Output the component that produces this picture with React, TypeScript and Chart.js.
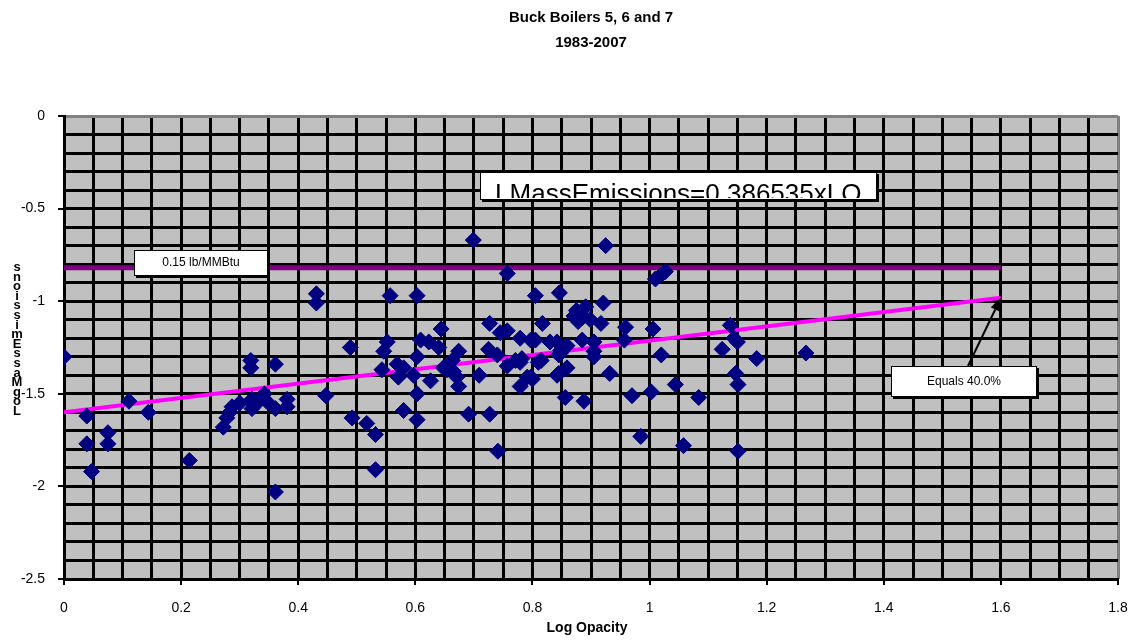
import React, { useEffect, useRef } from "react";
import { Chart, registerables } from "chart.js";

Chart.register(...registerables);

const TITLE_LINES = ["Buck Boilers 5, 6 and 7", "1983-2007"];
const X_TITLE = "Log Opacity";
const Y_TITLE = "LogMassEmissions";

const logOpacity = [
  0.0, 0.039, 0.039, 0.047, 0.075, 0.075, 0.111, 0.144, 0.214, 0.272,
  0.278, 0.283, 0.287, 0.3, 0.319, 0.319, 0.321, 0.321, 0.33, 0.342,
  0.346, 0.361, 0.361, 0.381, 0.381, 0.361, 0.431, 0.431, 0.557, 0.603,
  0.489, 0.447, 0.492, 0.517, 0.532, 0.532, 0.546, 0.552, 0.543, 0.569,
  0.571, 0.58, 0.597, 0.603, 0.609, 0.623, 0.64, 0.603, 0.58, 0.603,
  0.626, 0.644, 0.648, 0.663, 0.674, 0.665, 0.674, 0.691, 0.709, 0.727,
  0.741, 0.727, 0.745, 0.757, 0.725, 0.74, 0.757, 0.779, 0.782, 0.797,
  0.779, 0.797, 0.805, 0.81, 0.699, 0.925, 0.757, 0.846, 1.01, 1.019,
  1.027, 0.817, 0.805, 0.815, 0.8, 0.842, 0.848, 0.859, 0.845, 0.859,
  0.856, 0.888, 0.882, 0.891, 0.899, 0.871, 0.878, 0.921, 0.917, 0.885,
  0.905, 0.905, 0.932, 0.959, 0.957, 1.006, 1.02, 0.97, 1.003, 1.044,
  1.084, 0.985, 1.058, 1.138, 1.144, 1.124, 1.15, 1.183, 1.147, 1.151,
  1.151, 1.267, 0.83, 0.905, 0.848, 0.779, 0.791, 0.845, 0.842, 0.654,
  0.671, 0.771, 0.875, 0.885, 0.325,
];

const logMassEmissions = [
  -1.3, -1.62, -1.77, -1.92, -1.71, -1.77, -1.54, -1.6, -1.86, -1.68,
  -1.63, -1.6, -1.57, -1.55, -1.32, -1.36, -1.53, -1.58, -1.55, -1.5,
  -1.54, -1.34, -1.58, -1.53, -1.57, -2.03, -0.96, -1.01, -0.97, -0.97,
  -1.25, -1.51, -1.63, -1.66, -1.72, -1.91, -1.27, -1.22, -1.37, -1.34,
  -1.41, -1.36, -1.4, -1.3, -1.21, -1.22, -1.25, -1.5, -1.59, -1.64,
  -1.43, -1.15, -1.36, -1.32, -1.27, -1.38, -1.46, -1.61, -1.4, -1.61,
  -1.81, -1.12, -1.17, -1.16, -1.26, -1.29, -1.35, -1.2, -1.31, -1.21,
  -1.46, -1.41, -0.97, -1.33, -0.67, -0.7, -0.85, -0.955, -0.88, -0.86,
  -0.84, -1.12, -1.21, -1.32, -1.42, -1.22, -1.28, -1.24, -1.39, -1.36,
  -1.52, -1.54, -1.07, -1.03, -1.1, -1.08, -1.11, -1.01, -1.12, -1.21,
  -1.22, -1.3, -1.39, -1.14, -1.21, -1.15, -1.29, -1.51, -1.49, -1.45,
  -1.52, -1.73, -1.78, -1.13, -1.2, -1.26, -1.22, -1.31, -1.39, -1.45,
  -1.81, -1.28, -1.22, -1.27, -1.265, -1.33, -1.41, -1.29, -1.4, -1.37,
  -1.41, -1.32, -1.05, -1.09, -1.56,
];

const LIMIT_VALUE = -0.82;
const LIMIT_X_RANGE = [0, 1.6];
const TREND_SLOPE = 0.386535;
const TREND_INTERCEPT = -1.6;
const TREND_X_RANGE = [0, 1.6];

const LIMIT_LABEL = "0.15 lb/MMBtu";
const EQUATION_LABEL = "LMassEmissions=0.386535xLO";
const FIT_LABEL = "Equals 40.0%";

const X_MIN = 0;
const X_MAX = 1.8;
const X_LABEL_STEP = 0.2;
const X_GRID_STEP = 0.05;
const Y_MIN = -2.5;
const Y_MAX = 0;
const Y_LABEL_STEP = 0.5;
const Y_GRID_STEP = 0.1;

const FONT = '"Liberation Sans", Arial, sans-serif';

function fmt(v: number) {
  const r = Math.round(v * 10) / 10;
  return String(r === 0 ? 0 : r);
}

function drawBox(
  ctx: CanvasRenderingContext2D,
  cx: number,
  cy: number,
  w: number,
  h: number,
  text: string,
  font: string,
  clipBaseline?: number
) {
  const x = Math.round(cx - w / 2);
  const y = Math.round(cy - h / 2);
  ctx.fillStyle = "#000";
  ctx.fillRect(x + 2, y + 2, w, h);
  ctx.fillStyle = "#fff";
  ctx.fillRect(x, y, w, h);
  ctx.strokeStyle = "#000";
  ctx.lineWidth = 1;
  ctx.strokeRect(x + 0.5, y + 0.5, w - 1, h - 1);
  ctx.save();
  ctx.fillStyle = "#000";
  ctx.font = font;
  ctx.textAlign = "center";
  if (clipBaseline !== undefined) {
    ctx.beginPath();
    ctx.rect(x + 1, y + 1, w - 2, h - 3);
    ctx.clip();
    ctx.textBaseline = "alphabetic";
    ctx.fillText(text, cx, y + h + clipBaseline);
  } else {
    ctx.textBaseline = "middle";
    ctx.fillText(text, cx, cy);
  }
  ctx.restore();
}

const overlayPlugin = {
  id: "overlay",
  afterDraw(chart: any) {
    const ctx: CanvasRenderingContext2D = chart.ctx;
    const xs = chart.scales.x;
    const ys = chart.scales.y;
    const area = chart.chartArea;
    const cx = (area.left + area.right) / 2;
    ctx.save();
    ctx.fillStyle = "#000";
    ctx.textAlign = "center";
    ctx.textBaseline = "middle";
    ctx.font = `bold 15px ${FONT}`;
    ctx.fillText(TITLE_LINES[0], cx, 18);
    ctx.fillText(TITLE_LINES[1], cx, 43);
    ctx.font = `bold 14px ${FONT}`;
    ctx.fillText(X_TITLE, cx - 4, 628);
    ctx.font = `bold 13px ${FONT}`;
    ctx.textBaseline = "alphabetic";
    Y_TITLE.split("").forEach((ch, i) => {
      ctx.fillText(ch, 17, 415 - i * 9.6);
    });

    drawBox(
      ctx,
      xs.getPixelForValue(0.234),
      ys.getPixelForValue(LIMIT_VALUE + 0.026),
      134,
      26,
      LIMIT_LABEL,
      `12px ${FONT}`
    );
    drawBox(
      ctx,
      xs.getPixelForValue(1.049),
      ys.getPixelForValue(-0.378),
      397,
      28,
      EQUATION_LABEL,
      `26px ${FONT}`,
      2
    );
    const tipX = xs.getPixelForValue(TREND_X_RANGE[1]);
    const tipY = ys.getPixelForValue(TREND_INTERCEPT + TREND_SLOPE * TREND_X_RANGE[1]);
    const boxCx = xs.getPixelForValue(1.537);
    const boxCy = ys.getPixelForValue(-1.436);
    const sx = boxCx + 4;
    const sy = boxCy - 16;
    const ang = Math.atan2(tipY - sy, tipX - sx);
    const headLen = 13;
    const hx = tipX - Math.cos(ang) * headLen;
    const hy = tipY - Math.sin(ang) * headLen;
    ctx.strokeStyle = "#000";
    ctx.lineWidth = 2;
    ctx.beginPath();
    ctx.moveTo(sx, sy);
    ctx.lineTo(hx, hy);
    ctx.stroke();
    ctx.fillStyle = "#000";
    ctx.beginPath();
    ctx.moveTo(tipX, tipY);
    ctx.lineTo(hx + Math.sin(ang) * 5, hy - Math.cos(ang) * 5);
    ctx.lineTo(hx - Math.sin(ang) * 5, hy + Math.cos(ang) * 5);
    ctx.closePath();
    ctx.fill();
    drawBox(ctx, boxCx, boxCy, 146, 31, FIT_LABEL, `12px ${FONT}`);
    ctx.restore();
  },
};

const bgPlugin = {
  id: "plotbg",
  beforeDraw(chart: any) {
    const { ctx, chartArea: a } = chart;
    ctx.save();
    ctx.fillStyle = "#fff";
    ctx.fillRect(0, 0, chart.width, chart.height);
    ctx.fillStyle = "#C0C0C0";
    ctx.fillRect(a.left, a.top, a.right - a.left, a.bottom - a.top);
    ctx.restore();
  },
};

export default function App() {
  const ref = useRef<HTMLCanvasElement | null>(null);

  useEffect(() => {
    document.body.style.margin = "0";
    const canvas = ref.current;
    if (!canvas) return;
    const points = logOpacity.map((x, i) => ({ x, y: logMassEmissions[i] }));
    const limitLine = LIMIT_X_RANGE.map((x) => ({ x, y: LIMIT_VALUE }));
    const trendLine = TREND_X_RANGE.map((x) => ({ x, y: TREND_INTERCEPT + TREND_SLOPE * x }));

    const chart = new Chart(canvas, {
      type: "scatter",
      data: {
        datasets: [
          {
            label: "Data",
            data: points,
            pointStyle: "rectRot",
            pointRadius: 8,
            pointHoverRadius: 8,
            backgroundColor: "#000080",
            borderColor: "#000080",
            borderWidth: 1,
            order: 0,
          },
          {
            label: "Limit",
            type: "line",
            data: limitLine,
            borderColor: "#800080",
            borderWidth: 5,
            pointRadius: 0,
            fill: false,
            order: 2,
          },
          {
            label: "Trend",
            type: "line",
            data: trendLine,
            borderColor: "#FF00FF",
            borderWidth: 4,
            pointRadius: 0,
            fill: false,
            order: 1,
          },
        ],
      },
      options: {
        animation: false,
        responsive: false,
        maintainAspectRatio: false,
        layout: { padding: { top: 116, right: 26, bottom: 0, left: 0 } },
        plugins: {
          legend: { display: false },
          title: { display: false },
          tooltip: { enabled: false },
        },
        scales: {
          xg: {
            type: "linear",
            position: "bottom",
            min: X_MIN,
            max: X_MAX,
            ticks: { display: false, stepSize: X_GRID_STEP },
            border: { display: false },
            grid: {
              drawTicks: false,
              lineWidth: 3,
              color: (c: any) =>
                Math.abs(c.tick.value - X_MAX) < 1e-6 ? "#808080" : "#000",
            },
            afterFit: (s: any) => {
              s.height = 0;
            },
          },
          yg: {
            type: "linear",
            position: "left",
            min: Y_MIN,
            max: Y_MAX,
            ticks: { display: false, stepSize: Y_GRID_STEP },
            border: { display: false },
            grid: {
              drawTicks: false,
              lineWidth: 3,
              color: (c: any) =>
                Math.abs(c.tick.value - Y_MAX) < 1e-6 ? "#808080" : "#000",
            },
            afterFit: (s: any) => {
              s.width = 0;
            },
          },
          x: {
            type: "linear",
            position: "bottom",
            min: X_MIN,
            max: X_MAX,
            ticks: {
              stepSize: X_LABEL_STEP,
              color: "#000",
              font: { family: FONT, size: 14 },
              padding: 15,
              callback: (v: any) => fmt(Number(v)),
              maxRotation: 0,
              autoSkip: false,
            },
            border: { display: true, color: "#000", width: 3 },
            grid: {
              drawOnChartArea: false,
              drawTicks: true,
              tickLength: 6,
              color: "#000",
              lineWidth: 2,
            },
            afterFit: (s: any) => {
              s.height = 61;
            },
          },
          y: {
            type: "linear",
            position: "left",
            min: Y_MIN,
            max: Y_MAX,
            ticks: {
              stepSize: Y_LABEL_STEP,
              color: "#000",
              font: { family: FONT, size: 14 },
              padding: 13,
              callback: (v: any) => fmt(Number(v)),
              autoSkip: false,
            },
            border: { display: true, color: "#000", width: 3 },
            grid: {
              drawOnChartArea: false,
              drawTicks: true,
              tickLength: 6,
              color: "#000",
              lineWidth: 2,
            },
            afterFit: (s: any) => {
              s.width = 64;
            },
          },
        },
      },
      plugins: [bgPlugin, overlayPlugin],
    } as any);

    return () => chart.destroy();
  }, []);

  return (
    <div style={{ width: 1144, height: 640 }}>
      <canvas ref={ref} width={1144} height={640} style={{ display: "block" }} />
    </div>
  );
}
